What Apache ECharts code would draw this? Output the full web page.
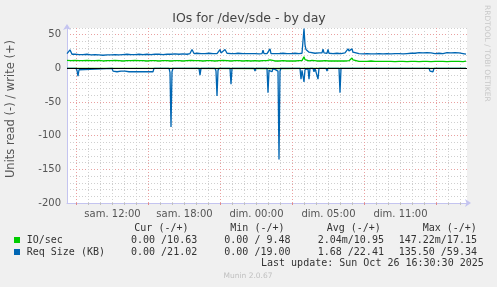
<!DOCTYPE html>
<html><head><meta charset="utf-8">
<script src="https://cdn.jsdelivr.net/npm/echarts@6/dist/echarts.min.js"></script>
<style>html,body{margin:0;padding:0;background:#f0f0f0}#c{width:497px;height:287px}</style>
</head><body><div id="c"></div>
<script>
// ---- data (x = 5-minute step index across the 400-px day graph) ----
const titleText = 'IOs for /dev/sde - by day';
const yAxisName = 'Units read (-) / write (+)';
const xTickLabels = ['sam. 12:00', 'sam. 18:00', 'dim. 00:00', 'dim. 05:00', 'dim. 11:00'];
const xLabelPos = [45.5, 117.5, 189.5, 261.5, 333.5];
const xMajorPos = [9, 81, 153, 225, 297, 369];
const yLabelVals = [-200, -150, -100, -50, 0, 50];

const seriesNames = ['IO/sec', 'Req Size (KB)'];
const legendHeads = ['Cur (-/+)', 'Min (-/+)', 'Avg (-/+)', 'Max (-/+)'];
const ioStats = ['0.00 /10.63', '0.00 / 9.48', '2.04m/10.95', '147.22m/17.15'];
const reqStats = ['0.00 /21.02', '0.00 /19.00', '1.68 /22.41', '135.50 /59.34'];
const lastUpdate = 'Last update: Sun Oct 26 16:30:30 2025';

// IO/sec read (drawn negative)
const ioRead = [[0,0],[104,0.1],[212,0.147],[237,0.05],[399,0]];
// IO/sec write
const ioWrite = [[0,12],[4,11.5],[8,12],[12,11.5],[16,11.5],[20,12],[24,11.5],[28,11.5],[32,12],[36,11],[40,11.5],[44,11.5],[48,12],[52,11.5],[56,11],[60,11.5],[64,11.5],[68,12],[72,11.5],[76,11.5],[80,11],[84,11.5],[88,11.5],[92,11],[96,11.5],[100,11.5],[104,11],[108,11.5],[112,11.5],[116,11],[120,11.5],[124,12],[126,12.5],[128,11.5],[132,11.5],[136,11],[140,11.5],[144,11.5],[148,11],[152,11.5],[156,12],[160,11.5],[164,11],[168,11.5],[172,11.5],[176,11],[180,11.5],[184,11],[188,11.5],[192,11],[196,11.5],[200,11.5],[203,12.5],[205,11.5],[208,11],[212,11],[216,11.5],[220,11],[224,11],[228,11],[232,11.5],[235,11.5],[236,13],[237,17.15],[238,13],[239,11.5],[242,11],[245,12],[246,14.5],[247,12],[250,11],[254,11],[258,11.5],[262,11],[266,11],[270,11],[274,11],[278,11],[282,11.5],[284,13],[285,15.5],[286,12.5],[288,11],[292,10.5],[296,10.5],[300,10.5],[304,11],[308,10.5],[312,10.5],[316,10.5],[320,10.5],[324,10.5],[328,10],[332,10.5],[336,10.5],[340,10],[344,10.5],[348,10.5],[352,10],[356,10.5],[360,10.5],[364,10],[368,10.5],[372,10.5],[376,10.5],[380,10],[384,10.5],[388,10.5],[392,10.5],[396,10],[399,10.63]];
// Req Size read (drawn negative)
const reqRead = [[0,0],[9,0],[10,3],[11,11.5],[12,2],[13,0],[45,0],[46,4],[48,2],[50,5],[52,3],[54,4],[56,2],[58,4],[60,3],[62,5],[64,3],[66,5],[86,5],[87,0],[102,0],[103,6],[104,87],[105,5],[106,0],[132,0],[133,10],[134,0],[148,0],[149,4],[150,41],[151,3],[152,0],[163,0],[164,23.5],[165,0],[187,0],[188,4],[189,0],[200,0],[201,36],[202,3],[203,5],[204,3],[205,5],[206,0],[211,4],[212,135.5],[213,4],[214,0],[233,0],[234,16],[235,3],[236,5],[237,20],[238,2],[239,0],[241,0],[242,16],[243,0],[246,0],[247,5],[248,0],[250,0],[251,16],[252,0],[259,0],[260,4],[261,0],[272,0],[273,36],[274,0],[362,0],[363,4],[364,5],[365,3],[366,5],[367,0],[399,0]];
// Req Size write
const reqWrite = [[0,22],[1,23],[3,27.5],[5,21],[8,21],[12,20.5],[16,20.5],[20,21],[24,20],[28,20.5],[32,20],[36,19.5],[40,20],[44,20],[48,20.5],[52,20],[56,20.5],[60,21],[64,20.5],[68,20.5],[72,21],[76,20.5],[80,21],[84,20.5],[88,21],[92,21],[96,20.5],[100,21],[104,21],[108,21.5],[112,21],[116,21.5],[120,21],[123,22],[125,28],[127,22],[130,22.5],[134,22],[138,22],[142,22.5],[146,22],[150,22],[152,23],[153,28],[154,23],[156,24],[158,28],[160,22.5],[164,22],[168,22],[171,22.5],[172,25],[173,22],[176,22],[180,22],[184,22],[188,22],[192,21.5],[195,22],[196,27],[197,22],[200,22],[202,22.5],[203,29],[204,22],[208,22],[212,22],[216,22.5],[220,22],[224,22],[228,22.5],[232,22],[235,22.5],[236,25],[237,59.34],[238,35],[239,28],[240,27],[241,29],[242,24],[244,23],[248,22.5],[252,23],[255,23],[256,28.5],[257,23],[260,22.5],[261,28],[262,22.5],[266,22],[270,22.5],[274,22],[278,23],[280,24],[281,29],[282,26],[283,25],[284,26],[285,29],[286,24],[288,22.5],[292,22],[296,21.5],[300,22],[304,21.5],[308,21.5],[312,22],[316,21.5],[320,22],[324,21.5],[328,22],[332,22],[336,21.5],[340,22],[344,22.5],[348,22.5],[352,23.5],[356,23],[360,23.5],[364,23],[368,22],[372,22.5],[376,22],[380,23.5],[384,23],[388,23.5],[392,23],[396,22],[399,21.02]];

// ---- grid positions ----
const xMinorPos = [];
for (let v = 9; v < 400; v += 12) if (xMajorPos.indexOf(v) < 0) xMinorPos.push(v);
const yMinorVals = [];
for (let v = -190; v <= 60; v += 10) if (v % 50 !== 0) yMinorVals.push(v);
const yMajorLines = [-150, -100, -50, 50];

const GREEN = '#00cc00', BLUE = '#0066b3', AXIS = '#c4c4f0';
const neg = arr => arr.map(p => [p[0], -p[1]]);
const lineSeries = (name, data, color, extra) => Object.assign({
  type: 'line', name, data, showSymbol: false, symbol: 'none',
  lineStyle: {color, width: 1.3}, itemStyle: {color},
  xAxisIndex: 0, yAxisIndex: 1, animation: false, silent: true
}, extra || {});

const mono = '"DejaVu Sans Mono", monospace';
const sans = '"DejaVu Sans", sans-serif';
const txt = (x, y, text, o) => ({type: 'text', x, y, silent: true,
  style: Object.assign({text, fill: '#333', font: '10px ' + mono, textVerticalAlign: 'middle'}, o || {})});

const graphics = [
  txt(249, 19, titleText, {font: '12.5px ' + sans, textAlign: 'center', fill: '#444'}),
  {type: 'text', x: 11, y: 109, rotation: Math.PI / 2, silent: true,
    style: {text: yAxisName, font: '11.5px ' + sans, fill: '#555', textAlign: 'center', textVerticalAlign: 'middle'}},
  {type: 'text', x: 487, y: 5, rotation: -Math.PI / 2, silent: true,
    style: {text: 'RRDTOOL / TOBI OETIKER', font: '7.5px ' + sans, fill: '#c8c8c8', textAlign: 'left', textVerticalAlign: 'middle'}},
  {type: 'rect', shape: {x: 14, y: 237, width: 6, height: 6}, style: {fill: GREEN}, silent: true},
  {type: 'rect', shape: {x: 14, y: 249, width: 6, height: 6}, style: {fill: BLUE}, silent: true},
  txt(26.7, 240, seriesNames[0]),
  txt(26.7, 252, seriesNames[1]),
  txt(261, 263.5, lastUpdate),
  txt(248, 276.5, 'Munin 2.0.67', {font: '7.5px ' + sans, fill: '#c0c0c0', textAlign: 'center'})
];
const headX = [134.3, 230.3, 326.7, 422.7];
const valX = [131, 224.3, 317.7, 398.7];
legendHeads.forEach((h, i) => graphics.push(txt(headX[i], 228, h)));
ioStats.forEach((s, i) => graphics.push(txt(valX[i], 240, s)));
reqStats.forEach((s, i) => graphics.push(txt(valX[i], 252, s)));

const chart = echarts.init(document.getElementById('c'), null, {renderer: 'canvas'});
chart.setOption({
  backgroundColor: '#f0f0f0',
  animation: false,
  grid: {left: 67, top: 28, width: 400, height: 175, show: true, backgroundColor: '#ffffff', borderWidth: 0},
  xAxis: [
    {type: 'value', min: 0, max: 400, position: 'bottom',
      axisLine: {show: true, onZero: false, lineStyle: {color: AXIS, width: 1}, symbol: ['none', 'arrow'], symbolSize: [6, 6], symbolOffset: [0, 4]},
      axisTick: {show: true, customValues: xMinorPos, length: 2, lineStyle: {color: '#c0c0c0'}},
      splitLine: {show: true, lineStyle: {color: '#cfcfcf', type: [1, 2], width: 1}},
      axisLabel: {show: true, customValues: xLabelPos, color: '#555', fontSize: 10, fontFamily: sans, margin: 6,
        formatter: v => { const i = xLabelPos.indexOf(v); return i >= 0 ? xTickLabels[i] : ''; }}},
    {type: 'value', min: 0, max: 400, position: 'bottom',
      axisLine: {show: false, onZero: false},
      axisTick: {show: true, customValues: xMajorPos, length: 2, lineStyle: {color: '#e08a8a'}},
      splitLine: {show: true, lineStyle: {color: '#e9a0a0', type: [1, 2], width: 1}},
      axisLabel: {show: false}}
  ],
  yAxis: [
    {type: 'value', min: -200, max: 60, position: 'left',
      axisLine: {show: false, onZero: false},
      axisTick: {show: false, customValues: yMinorVals},
      splitLine: {show: true, lineStyle: {color: '#cfcfcf', type: [1, 2], width: 1}},
      axisLabel: {show: false}},
    {type: 'value', min: -200, max: 60, position: 'left',
      axisLine: {show: true, onZero: false, lineStyle: {color: AXIS, width: 1}, symbol: ['none', 'arrow'], symbolSize: [6, 6], symbolOffset: [0, 4]},
      axisTick: {show: false, customValues: yMajorLines},
      splitLine: {show: true, lineStyle: {color: '#e9a0a0', type: [1, 2], width: 1}},
      axisLabel: {show: true, customValues: yLabelVals, color: '#555', fontSize: 10, fontFamily: sans, margin: 6}}
  ],
  series: [
    lineSeries('IO/sec read', neg(ioRead), GREEN),
    lineSeries('IO/sec', ioWrite, GREEN),
    lineSeries('Req Size read', neg(reqRead), BLUE),
    lineSeries('Req Size (KB)', reqWrite, BLUE, {
      markLine: {silent: true, symbol: ['none', 'none'], z: 10, animation: false,
        label: {show: false}, lineStyle: {color: '#000', width: 1, type: 'solid'},
        data: [{yAxis: 0}]}
    })
  ],
  graphic: graphics
});
</script></body></html>
